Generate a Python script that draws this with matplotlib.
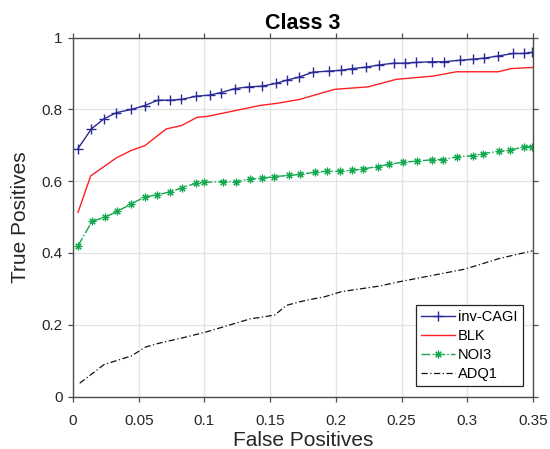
import matplotlib
matplotlib.use("Agg")
import matplotlib.pyplot as plt

plt.rcParams['font.family'] = ['Liberation Sans', 'DejaVu Sans']

title = "Class 3"
xlabel = "False Positives"
ylabel = "True Positives"
xticks = [0, 0.05, 0.1, 0.15, 0.2, 0.25, 0.3, 0.35]
xticklabels = ["0", "0.05", "0.1", "0.15", "0.2", "0.25", "0.3", "0.35"]
yticks = [0, 0.2, 0.4, 0.6, 0.8, 1.0]
yticklabels = ["0", "0.2", "0.4", "0.6", "0.8", "1"]

cagi_x = [0.0038, 0.014, 0.0236, 0.033, 0.0444, 0.0546, 0.0647, 0.0736, 0.0825, 0.0939,
          0.104, 0.1124, 0.123, 0.1337, 0.144, 0.1548, 0.163, 0.1718, 0.1827, 0.1948,
          0.2037, 0.2126, 0.2233, 0.2326, 0.2443, 0.2524, 0.2606, 0.2735, 0.282, 0.2943,
          0.3044, 0.3128, 0.3234, 0.3349, 0.3432, 0.3496]
cagi_y = [0.691, 0.746, 0.774, 0.791, 0.800, 0.811, 0.826, 0.826, 0.828, 0.837,
          0.840, 0.847, 0.858, 0.863, 0.865, 0.873, 0.882, 0.890, 0.904, 0.907,
          0.909, 0.914, 0.918, 0.924, 0.929, 0.929, 0.931, 0.933, 0.933, 0.937,
          0.940, 0.943, 0.949, 0.956, 0.956, 0.959]

blk_x = [0.0038, 0.0135, 0.033, 0.0444, 0.0546, 0.0711, 0.0825, 0.0944, 0.1027, 0.142,
         0.155, 0.1725, 0.180, 0.199, 0.2245, 0.246, 0.274, 0.2918, 0.3234, 0.3337, 0.3496]
blk_y = [0.513, 0.615, 0.665, 0.686, 0.699, 0.746, 0.755, 0.778, 0.781, 0.811,
         0.817, 0.828, 0.836, 0.856, 0.863, 0.884, 0.893, 0.905, 0.905, 0.914, 0.917]

noi3_x = [0.0038, 0.0145, 0.0246, 0.0338, 0.0444, 0.0546, 0.0639, 0.0736, 0.0833, 0.0939,
          0.0997, 0.1142, 0.1244, 0.1345, 0.1438, 0.153, 0.1644, 0.1725, 0.184, 0.1936,
          0.203, 0.212, 0.2207, 0.2317, 0.2403, 0.2511, 0.2618, 0.2735, 0.2816, 0.2918,
          0.3044, 0.3116, 0.324, 0.3323, 0.343, 0.3496]
noi3_y = [0.420, 0.488, 0.500, 0.516, 0.537, 0.556, 0.562, 0.570, 0.582, 0.595,
          0.597, 0.599, 0.598, 0.606, 0.608, 0.613, 0.616, 0.619, 0.625, 0.628,
          0.628, 0.630, 0.634, 0.641, 0.647, 0.653, 0.656, 0.660, 0.660, 0.668,
          0.671, 0.677, 0.683, 0.686, 0.696, 0.696]

adq1_x = [0.0051, 0.0236, 0.0444, 0.0553, 0.066, 0.0863, 0.1015, 0.1116, 0.1345, 0.1535,
          0.1624, 0.1725, 0.180, 0.1915, 0.204, 0.2334, 0.2486, 0.2968, 0.3044, 0.3247, 0.3496]
adq1_y = [0.037, 0.089, 0.113, 0.138, 0.149, 0.166, 0.180, 0.191, 0.216, 0.227,
          0.254, 0.264, 0.270, 0.278, 0.292, 0.308, 0.320, 0.354, 0.362, 0.385, 0.406]

fig = plt.figure(figsize=(5.5, 4.49), dpi=100)
ax = fig.add_axes([73 / 550, 1 - 396.5 / 449, 460 / 550, 358.8 / 449])

ax.plot(cagi_x, cagi_y, color='#2a2a96', lw=1.0, marker='+', ms=7, mew=1.0, label='inv-CAGI')
ax.plot(blk_x, blk_y, color='#ff2020', lw=1.0, label='BLK')
ax.plot(noi3_x, noi3_y, color='#12a84e', lw=1.0, ls='-.', marker=(8, 2, 0), ms=5.5, mew=0.8,
        label='NOI3')
ax.plot(adq1_x, adq1_y, color='#111111', lw=0.9, ls=(0, (5, 2, 1, 2)), label='ADQ1')

ax.set_xlim(0, 0.35)
ax.set_ylim(0, 1)
ax.set_xticks(xticks)
ax.set_xticklabels(xticklabels)
ax.set_yticks(yticks)
ax.set_yticklabels(yticklabels)

grey = '#262626'
ax.grid(True, color='#e3e3e3', lw=0.9)
ax.set_axisbelow(True)
for s in ax.spines.values():
    s.set_color('#4d4d4d')
    s.set_linewidth(1.0)
ax.tick_params(direction='out', length=3.5, width=0.9, colors='#4d4d4d', labelcolor=grey,
               labelsize=11, top=True, right=True)
ax.tick_params(axis='x', pad=9)
ax.tick_params(axis='y', pad=4)

ax.set_title(title, fontsize=15.5, fontweight='bold', color='black', pad=6)
ax.set_xlabel(xlabel, fontsize=15, color=grey, labelpad=2)
ax.set_ylabel(ylabel, fontsize=15, color=grey, labelpad=8)

leg = ax.legend(loc='lower right', fontsize=10.5, fancybox=False, framealpha=1,
                edgecolor='#262626', handlelength=2.3, borderaxespad=0.7,
                labelspacing=0.35, handletextpad=0.25, borderpad=0.35)
leg.get_frame().set_linewidth(0.9)

fig.savefig('out.png', dpi=100)
